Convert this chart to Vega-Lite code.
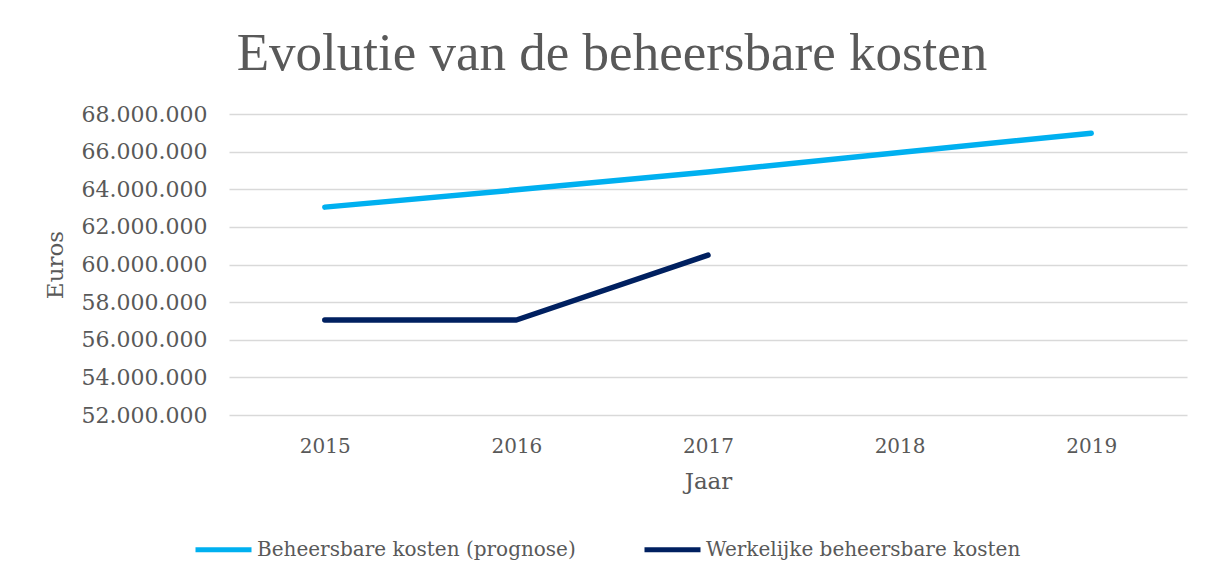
{
  "$schema": "https://vega.github.io/schema/vega-lite/v6.json",
  "width": 958,
  "height": 301,
  "autosize": {"type": "none"},
  "padding": {"left": 229, "top": 114, "right": 36, "bottom": 168},
  "background": "white",
  "config": {
    "locale": {"number": {"decimal": ",", "thousands": ".", "grouping": [3], "currency": ["€", ""]}},
    "view": {"stroke": null},
    "font": "DejaVu Serif"
  },
  "title": {
    "text": "Evolutie van de beheersbare kosten",
    "font": "Liberation Serif",
    "fontSize": 53,
    "fontWeight": "normal",
    "color": "#595959",
    "anchor": "middle",
    "frame": "group",
    "dx": -96,
    "offset": 22
  },
  "data": {
    "values": [
      {"jaar": "2015", "reeks": "Beheersbare kosten (prognose)", "euros": 63050000},
      {"jaar": "2016", "reeks": "Beheersbare kosten (prognose)", "euros": 63970000},
      {"jaar": "2017", "reeks": "Beheersbare kosten (prognose)", "euros": 64920000},
      {"jaar": "2018", "reeks": "Beheersbare kosten (prognose)", "euros": 65950000},
      {"jaar": "2019", "reeks": "Beheersbare kosten (prognose)", "euros": 66980000},
      {"jaar": "2015", "reeks": "Werkelijke beheersbare kosten", "euros": 57050000},
      {"jaar": "2016", "reeks": "Werkelijke beheersbare kosten", "euros": 57050000},
      {"jaar": "2017", "reeks": "Werkelijke beheersbare kosten", "euros": 60500000}
    ]
  },
  "mark": {"type": "line", "strokeWidth": 5.5, "strokeCap": "round", "strokeJoin": "round"},
  "encoding": {
    "x": {
      "field": "jaar",
      "type": "ordinal",
      "title": "Jaar",
      "scale": {"type": "point", "padding": 0.5},
      "axis": {
        "labelAngle": 0,
        "domain": false,
        "ticks": false,
        "tickSize": 0,
        "grid": false,
        "labelFont": "DejaVu Serif",
        "labelFontSize": 20,
        "labelColor": "#595959",
        "labelPadding": 21,
        "titleFont": "DejaVu Serif",
        "titleFontSize": 23,
        "titleFontWeight": "normal",
        "titleColor": "#595959",
        "titlePadding": 14
      }
    },
    "y": {
      "field": "euros",
      "type": "quantitative",
      "title": "Euros",
      "scale": {"domain": [52000000, 68000000], "nice": false, "zero": false},
      "axis": {
        "values": [52000000, 54000000, 56000000, 58000000, 60000000, 62000000, 64000000, 66000000, 68000000],
        "format": ",.0f",
        "domain": false,
        "ticks": false,
        "tickSize": 0,
        "grid": true,
        "gridColor": "#D9D9D9",
        "gridWidth": 1.5,
        "labelFont": "DejaVu Serif",
        "labelFontSize": 22,
        "labelColor": "#595959",
        "labelPadding": 22,
        "titleFont": "DejaVu Serif",
        "titleFontSize": 23,
        "titleFontWeight": "normal",
        "titleColor": "#595959",
        "titlePadding": 14
      }
    },
    "color": {
      "field": "reeks",
      "type": "nominal",
      "title": null,
      "scale": {
        "domain": ["Beheersbare kosten (prognose)", "Werkelijke beheersbare kosten"],
        "range": ["#00B0F0", "#002060"]
      },
      "legend": {
        "orient": "none",
        "legendX": -36,
        "legendY": 405,
        "direction": "horizontal",
        "symbolType": "stroke",
        "symbolSize": 3136,
        "symbolStrokeWidth": 5,
        "labelFont": "DejaVu Serif",
        "labelFontSize": 20,
        "labelColor": "#595959",
        "labelOffset": 3,
        "columnPadding": 58,
        "labelLimit": 500
      }
    }
  }
}
